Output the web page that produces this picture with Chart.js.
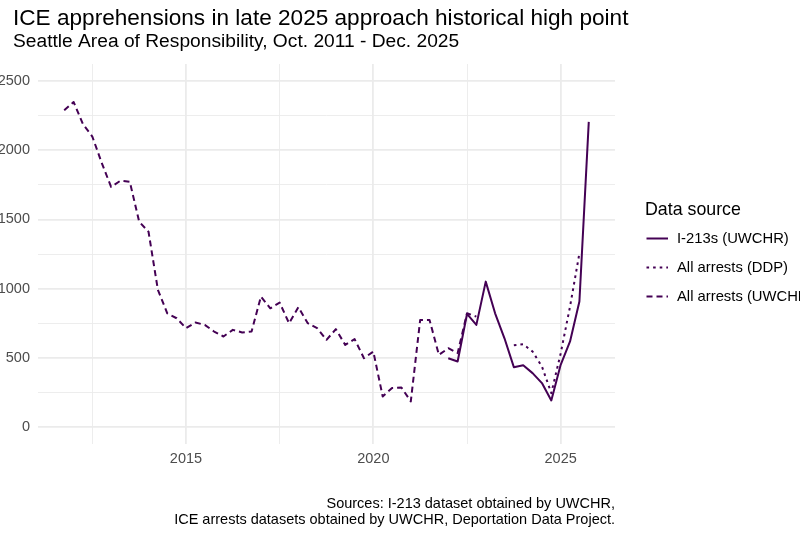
<!DOCTYPE html>
<html>
<head>
<meta charset="utf-8">
<script src="https://cdn.jsdelivr.net/npm/chart.js@4.4.1/dist/chart.umd.min.js"></script>
<style>
  html, body { margin: 0; padding: 0; background: #fff; overflow: hidden; }
  #chart { display: block; }
</style>
</head>
<body>
<canvas id="chart" width="800" height="534"></canvas>
<script>
// Quarter start months, Oct. 2011 - Oct. 2025
const quarters = [
  "2011-10",
  "2012-01", "2012-04", "2012-07", "2012-10",
  "2013-01", "2013-04", "2013-07", "2013-10",
  "2014-01", "2014-04", "2014-07", "2014-10",
  "2015-01", "2015-04", "2015-07", "2015-10",
  "2016-01", "2016-04", "2016-07", "2016-10",
  "2017-01", "2017-04", "2017-07", "2017-10",
  "2018-01", "2018-04", "2018-07", "2018-10",
  "2019-01", "2019-04", "2019-07", "2019-10",
  "2020-01", "2020-04", "2020-07", "2020-10",
  "2021-01", "2021-04", "2021-07", "2021-10",
  "2022-01", "2022-04", "2022-07", "2022-10",
  "2023-01", "2023-04", "2023-07", "2023-10",
  "2024-01", "2024-04", "2024-07", "2024-10",
  "2025-01", "2025-04", "2025-07", "2025-10",
];

// I-213s (UWCHR)
const i213Start = "2022-01";
const i213Values = [496, 472, 816, 737, 1050, 821, 640, 431, 445, 388, 316, 190, 448, 617, 906, 2206];

// All arrests (DDP)
const ddpStart = "2023-10";
const ddpValues = [590, 597, 544, 436, 243, 530, 870, 1255];

// All arrests (UWCHR)
const uwchrStart = "2011-10";
const uwchrValues = [
  2290, 2350, 2190, 2100, 1910, 1736, 1780, 1773, 1484, 1411,
  990, 821, 785, 713, 754, 737, 689, 653, 701, 682,
  689, 942, 857, 898, 749, 865, 749, 713, 629, 706,
  592, 634, 496, 544, 219, 280, 284, 183, 773, 773,
  520, 568, 532, 821, 797,
];

const seriesLabels = ["I-213s (UWCHR)", "All arrests (DDP)", "All arrests (UWCHR)"];
const yTicks = [0, 500, 1000, 1500, 2000, 2500];
const xTicks = [2015, 2020, 2025];

const TITLE = "ICE apprehensions in late 2025 approach historical high point";
const SUBTITLE = "Seattle Area of Responsibility, Oct. 2011 - Dec. 2025";
const CAPTION = [
  "Sources: I-213 dataset obtained by UWCHR,",
  "ICE arrests datasets obtained by UWCHR, Deportation Data Project.",
];
const LEGEND_TITLE = "Data source";

const FONT = '"Liberation Sans", Arial, Helvetica, sans-serif';
const LINE_COLOR = "#440154";
const GRID_COLOR = "#ebebeb";

function toYear(q) {
  const [y, m] = q.split("-").map(Number);
  return y + (m - 1) / 12;
}

function toPoints(start, values) {
  const first = quarters.indexOf(start);
  return values.map((v, i) => ({ x: toYear(quarters[first + i]), y: v }));
}

// ggplot-style 5% expansion of the plotted range
const firstYear = toYear(quarters[0]);
const lastYear = toYear(quarters[quarters.length - 1]);
const xPad = (lastYear - firstYear) * 0.05;
const yLo = yTicks[0];
const yHi = yTicks[yTicks.length - 1];
const yPad = (yHi - yLo) * 0.05;

const xGrid = [...xTicks.map((t) => t - 2.5), ...xTicks].sort((a, b) => a - b);
const yGrid = [...yTicks, ...yTicks.slice(1).map((t) => t - 250)].sort((a, b) => a - b);

const lineStyles = [
  { borderDash: [] },
  { borderDash: [2.6, 4] },
  { borderDash: [6, 4] },
];

const datasets = [
  toPoints(i213Start, i213Values),
  toPoints(ddpStart, ddpValues),
  toPoints(uwchrStart, uwchrValues),
].map((data, i) => ({
  label: seriesLabels[i],
  data,
  borderColor: LINE_COLOR,
  borderWidth: 2,
  borderDash: lineStyles[i].borderDash,
  borderCapStyle: "butt",
  borderJoinStyle: "round",
  pointRadius: 0,
  tension: 0,
  fill: false,
}));

const textPlugin = {
  id: "textPlugin",
  afterDraw(chart) {
    const { ctx, chartArea } = chart;
    ctx.save();
    ctx.fillStyle = "#000";
    ctx.textBaseline = "alphabetic";
    ctx.textAlign = "left";
    ctx.font = `22.6px ${FONT}`;
    ctx.fillText(TITLE, 13, 25);
    ctx.font = `19.2px ${FONT}`;
    ctx.fillText(SUBTITLE, 13, 46.7);

    // caption, right-aligned to the panel
    ctx.textAlign = "right";
    ctx.font = `14.5px ${FONT}`;
    CAPTION.forEach((line, i) => ctx.fillText(line, chartArea.right, 507.5 + i * 16.5));

    // legend
    const lx = chartArea.right + 30;
    ctx.textAlign = "left";
    ctx.font = `17.8px ${FONT}`;
    ctx.fillText(LEGEND_TITLE, lx, 214.5);
    ctx.font = `14.8px ${FONT}`;
    ctx.textBaseline = "middle";
    chart.data.datasets.forEach((ds, i) => {
      const y = 238.5 + i * 29;
      ctx.beginPath();
      ctx.strokeStyle = ds.borderColor;
      ctx.lineWidth = ds.borderWidth;
      ctx.lineCap = "butt";
      ctx.setLineDash(ds.borderDash);
      ctx.moveTo(lx + 1.5, y);
      ctx.lineTo(lx + 23, y);
      ctx.stroke();
      ctx.setLineDash([]);
      ctx.fillText(ds.label, lx + 32, y);
    });
    ctx.restore();
  },
};

const isMajor = (v, list) => list.includes(v);

new Chart(document.getElementById("chart").getContext("2d"), {
  type: "line",
  data: { datasets },
  options: {
    responsive: false,
    animation: false,
    layout: { padding: { top: 64, right: 185, bottom: 0, left: 0 } },
    plugins: {
      legend: { display: false },
      tooltip: { enabled: false },
    },
    scales: {
      x: {
        type: "linear",
        min: firstYear - xPad,
        max: lastYear + xPad,
        afterBuildTicks: (scale) => {
          scale.ticks = xGrid.map((v) => ({ value: v }));
        },
        afterFit: (scale) => {
          scale.height = 90;
        },
        ticks: {
          autoSkip: false,
          maxRotation: 0,
          padding: 6,
          color: "#4d4d4d",
          font: { family: FONT, size: 14.5 },
          callback: (v) => (isMajor(v, xTicks) ? String(v) : ""),
        },
        grid: {
          color: GRID_COLOR,
          drawTicks: false,
          lineWidth: (c) => (isMajor(c.tick.value, xTicks) ? 1.8 : 0.9),
        },
        border: { display: false },
      },
      y: {
        min: yLo - yPad,
        max: yHi + yPad,
        afterBuildTicks: (scale) => {
          scale.ticks = yGrid.map((v) => ({ value: v }));
        },
        afterFit: (scale) => {
          scale.width = 38;
        },
        ticks: {
          autoSkip: false,
          padding: 8,
          color: "#4d4d4d",
          font: { family: FONT, size: 14.5 },
          callback: (v) => (isMajor(v, yTicks) ? String(v) : ""),
        },
        grid: {
          color: GRID_COLOR,
          drawTicks: false,
          lineWidth: (c) => (isMajor(c.tick.value, yTicks) ? 1.8 : 0.9),
        },
        border: { display: false },
      },
    },
  },
  plugins: [textPlugin],
});
</script>
</body>
</html>
